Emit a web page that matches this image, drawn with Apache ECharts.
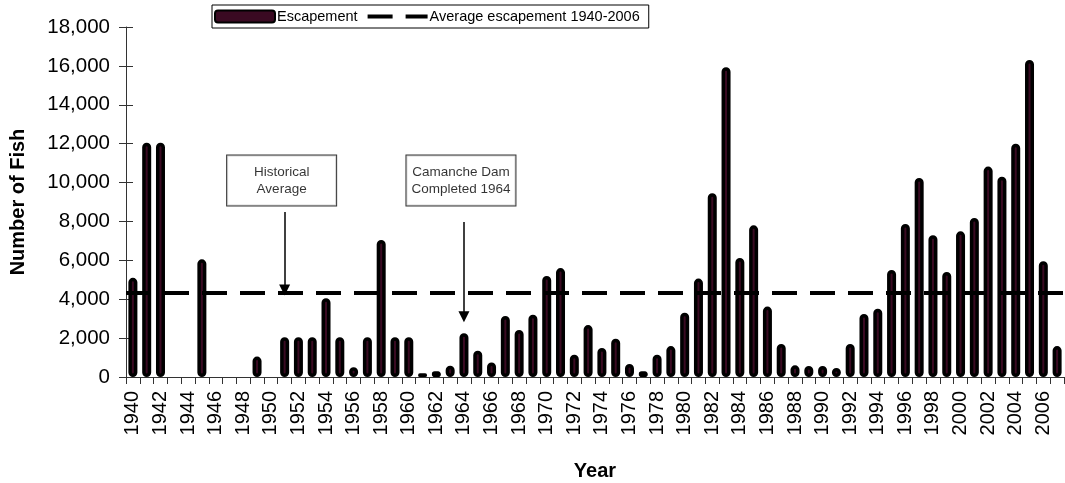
<!DOCTYPE html>
<html>
<head>
<meta charset="utf-8">
<script src="https://cdn.jsdelivr.net/npm/echarts@6/dist/echarts.min.js"></script>
<style>
  html, body { margin: 0; padding: 0; background: #fff; }
  #chart { width: 1065px; height: 483px; }
</style>
</head>
<body>
<div id="chart"></div>
<script>
// years 1940-2007
const years = [];
for (let y = 1940; y <= 2007; y++) years.push(String(y));

// escapement per year (null = no bar)
const escapement = [
  5100, 12050, 12050, null, null, 6050, null, null, null, 1050,
  null, 2050, 2050, 2050, 4050, 2050, 500, 2050, 7050, 2050,
  2050, 190, 290, 580, 2250, 1350, 750, 3140, 2420, 3200,
  5200, 5600, 1150, 2670, 1490, 1970, 670, 290, 1150, 1590,
  3310, 5060, 9450, 15930, 6120, 7800, 3620, 1700, 600, 570,
  570, 460, 1700, 3240, 3510, 5500, 7870, 10240, 7290, 5400,
  7490, 8180, 10820, 10300, 12000, 16300, 5950, 1590
];

const AVG = 4340;

// annotation boxes: [year, value, text]
const notes = [
  ['1951', 10110, 'Historical\nAverage'],
  ['1964', 10110, 'Camanche Dam\nCompleted 1964']
];
// arrows: [year, from value, to value]
const arrows = [
  ['1951', 8490, 4470],
  ['1964', 7970, 3100]
];

const FONT = 'Liberation Sans, Arial, sans-serif';
const DASH = [25, 13];

const chart = echarts.init(document.getElementById('chart'));

chart.setOption({
  animation: false,
  textStyle: { fontFamily: FONT, color: '#000' },
  grid: { left: 126, right: 1, top: 27, bottom: 106, outerBoundsMode: 'none', containLabel: false },
  legend: {
    data: [
      { name: 'Escapement' },
      {
        name: 'Average escapement 1940-2006',
        itemStyle: { opacity: 0 },
        lineStyle: { color: '#000', width: 4, type: DASH }
      }
    ],
    left: 212,
    top: 5,
    padding: [4, 9, 4, 2],
    itemGap: 8,
    itemWidth: 60,
    itemHeight: 12,
    borderColor: '#000',
    borderWidth: 1,
    textStyle: { fontSize: 14.5, color: '#000', fontFamily: FONT, padding: [0, 0, 0, -3] }
  },
  xAxis: {
    type: 'category',
    data: years,
    name: 'Year',
    nameLocation: 'middle',
    nameGap: 84,
    nameTextStyle: { fontSize: 20, fontWeight: 'bold', color: '#000' },
    axisLine: { lineStyle: { color: '#333', width: 1 } },
    axisTick: { show: true, interval: 0, length: 7, lineStyle: { color: '#333' } },
    axisLabel: { interval: 1, rotate: 90, fontSize: 20, margin: 14, color: '#000' }
  },
  yAxis: [{
    type: 'value',
    min: 0,
    max: 18000,
    interval: 2000,
    name: 'Number of Fish',
    nameLocation: 'middle',
    nameGap: 98,
    nameTextStyle: { fontSize: 20, fontWeight: 'bold', color: '#000' },
    axisLine: { show: true, lineStyle: { color: '#333', width: 1 } },
    axisTick: { show: true, length: 7, lineStyle: { color: '#333' } },
    axisLabel: {
      fontSize: 20.5, margin: 16, color: '#000',
      formatter: v => v.toLocaleString('en-US')
    },
    splitLine: { show: false }
  }, {
    // inner half of the crossing ticks
    type: 'value',
    position: 'left',
    min: 0,
    max: 18000,
    interval: 2000,
    axisLine: { show: false },
    axisTick: { show: true, inside: true, length: 7, lineStyle: { color: '#333' } },
    axisLabel: { show: false },
    splitLine: { show: false }
  }],
  series: [
    {
      name: 'Escapement',
      type: 'bar',
      data: escapement,
      barWidth: 9,
      itemStyle: {
        color: '#3a0a22',
        borderColor: '#000',
        borderWidth: 3.5,
        borderRadius: 3
      }
    },
    {
      name: 'Average escapement 1940-2006',
      type: 'line',
      data: [],
      symbol: 'none',
      lineStyle: { color: '#000', width: 4, type: DASH },
      markLine: {
        silent: true,
        symbol: ['none', 'none'],
        label: { show: false },
        lineStyle: { color: '#000', width: 4, type: DASH },
        data: [{ yAxis: AVG }]
      }
    },
    {
      name: 'notes',
      type: 'scatter',
      symbolSize: 0,
      data: notes.map(n => ({ value: [n[0], n[1]], text: n[2] })),
      label: {
        show: true,
        position: 'inside',
        formatter: p => p.data.text,
        fontSize: 13.5,
        lineHeight: 17,
        color: '#000',
        backgroundColor: '#fff',
        borderColor: '#000',
        borderWidth: 1,
        padding: [8, 5],
        width: 99,
        align: 'center',
        offset: [-3, 0]
      },
      markLine: {
        silent: true,
        symbol: ['none', 'triangle'],
        symbolSize: 11,
        label: { show: false },
        lineStyle: { color: '#000', width: 1.5, type: 'solid' },
        data: arrows.map(a => [
          { coord: [a[0], a[1]] },
          { coord: [a[0], a[2]] }
        ])
      }
    }
  ]
});
</script>
</body>
</html>
